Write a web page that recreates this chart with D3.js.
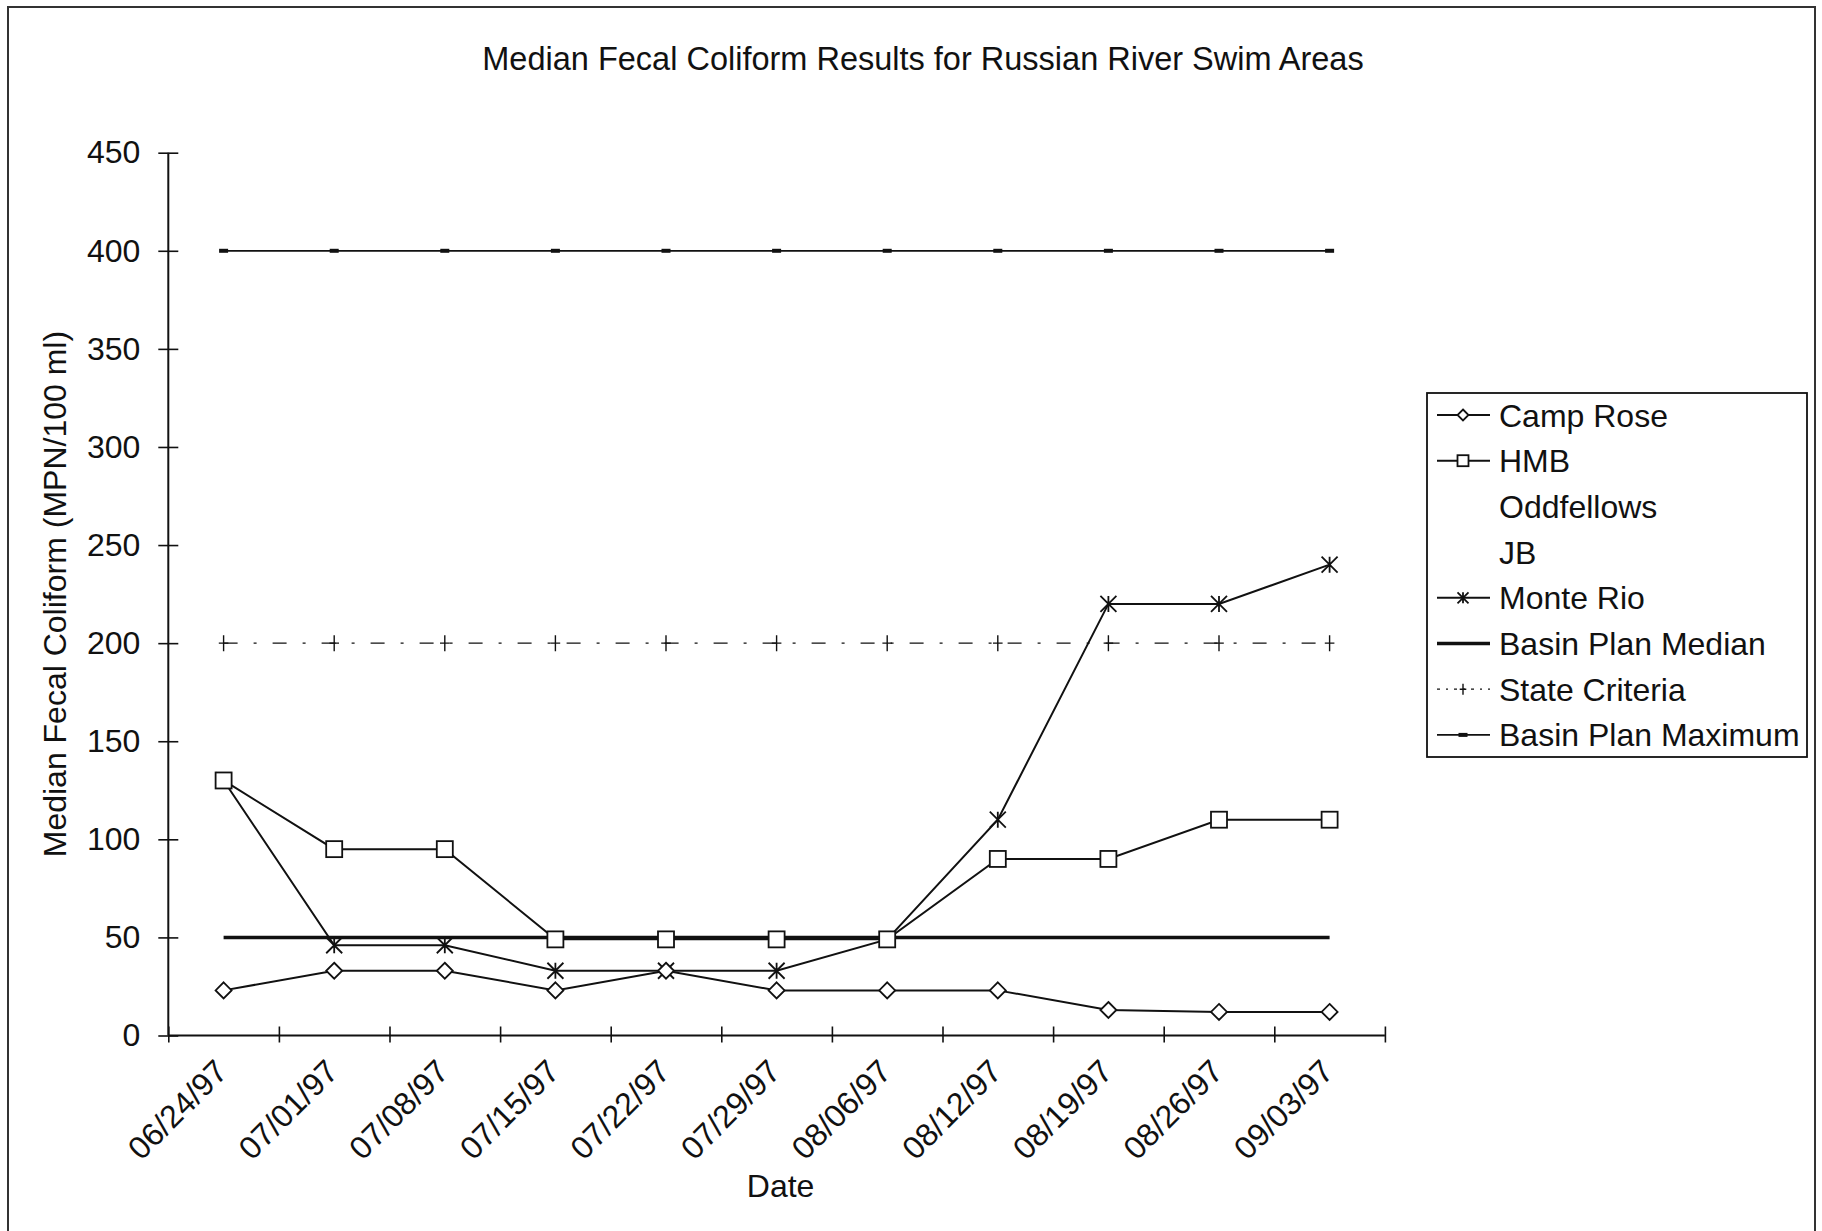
<!DOCTYPE html>
<html>
<head>
<meta charset="utf-8">
<script src="https://cdn.jsdelivr.net/npm/d3@7"></script>
<style>
  html, body { margin: 0; padding: 0; background: #fff; }
  svg { display: block; }
  text { font-family: "Liberation Sans", Arial, Helvetica, sans-serif; fill: #111; }
</style>
</head>
<body>
<svg id="chart" width="1822" height="1231"></svg>
<script>
// Sampling dates (category axis)
const dates = ["06/24/97", "07/01/97", "07/08/97", "07/15/97", "07/22/97", "07/29/97",
               "08/06/97", "08/12/97", "08/19/97", "08/26/97", "09/03/97"];

// Median fecal coliform by swim area (MPN/100 ml)
const campRose  = [23, 33, 33, 23, 33, 23, 23, 23, 13, 12, 12];
const hmb       = [130, 95, 95, 49, 49, 49, 49, 90, 90, 110, 110];
const oddfellows = [];
const jb        = [];
const monteRio  = [130, 46, 46, 33, 33, 33, 49, 110, 220, 220, 240];

// Reference criteria
const basinPlanMedian  = [50, 50, 50, 50, 50, 50, 50, 50, 50, 50, 50];
const stateCriteria    = [200, 200, 200, 200, 200, 200, 200, 200, 200, 200, 200];
const basinPlanMaximum = [400, 400, 400, 400, 400, 400, 400, 400, 400, 400, 400];

const yTicks = [0, 50, 100, 150, 200, 250, 300, 350, 400, 450];

const svg = d3.select("#chart");
const FONT = 32;

// Plot frame
const plotLeft = 168.3, plotRight = 1384.9, plotTop = 152.7, plotBottom = 1035.5;

const x = d3.scaleBand().domain(dates).range([plotLeft, plotRight]).padding(0);
const xEdge = d3.scaleLinear().domain([0, dates.length]).range([plotLeft, plotRight]);
const y = d3.scaleLinear().domain([0, 450]).range([plotBottom, plotTop]);
const cx = d => x(d) + x.bandwidth() / 2;

// Page border
svg.append("path")
  .attr("d", `M8,1231 L8,7 L1815,7 L1815,1231`)
  .attr("fill", "none").attr("stroke", "#333").attr("stroke-width", 2);

// Title
svg.append("text")
  .attr("x", 923).attr("y", 70)
  .attr("text-anchor", "middle")
  .style("font-size", "32.5px")
  .text("Median Fecal Coliform Results for Russian River Swim Areas");

// Y axis
const yAxis = svg.append("g")
  .attr("transform", `translate(${plotLeft},0)`)
  .call(d3.axisLeft(y).tickValues(yTicks).tickSize(10).tickPadding(18));
yAxis.select(".domain").attr("stroke", "#111").attr("stroke-width", 2).attr("d", `M0,${plotBottom}V${plotTop}`);
yAxis.selectAll(".tick line").attr("x1", 10).attr("x2", -10).attr("stroke", "#111").attr("stroke-width", 1.6);
yAxis.selectAll(".tick text").style("font-size", FONT + "px").attr("fill", "#111");

// X axis: ticks on category boundaries
const xAxis = svg.append("g")
  .attr("transform", `translate(0,${plotBottom})`)
  .call(d3.axisBottom(xEdge).tickValues(d3.range(dates.length + 1)).tickFormat(""));
xAxis.select(".domain").attr("stroke", "#111").attr("stroke-width", 2).attr("d", `M${plotLeft},0H${plotRight}`);
xAxis.selectAll(".tick line").attr("y1", -9).attr("y2", 7).attr("stroke", "#111").attr("stroke-width", 1.6);

// Category labels, rotated
svg.append("g").selectAll("text")
  .data(dates).join("text")
  .attr("transform", d => `translate(${cx(d) - 10},${plotBottom + 22}) rotate(-45)`)
  .attr("text-anchor", "end")
  .attr("dy", "0.7em")
  .style("font-size", FONT + "px")
  .text(d => d);

// Axis titles
svg.append("text")
  .attr("transform", `translate(66,${(plotTop + plotBottom) / 2}) rotate(-90)`)
  .attr("text-anchor", "middle")
  .style("font-size", FONT + "px")
  .text("Median Fecal Coliform (MPN/100 ml)");

svg.append("text")
  .attr("x", (plotLeft + plotRight) / 2 + 4).attr("y", 1197)
  .attr("text-anchor", "middle")
  .style("font-size", FONT + "px")
  .text("Date");

// Marker shapes
function marker(g, type, px, py, s) {
  const h = s / 2;
  if (type === "diamond") {
    g.append("path").attr("d", `M${px},${py - h}L${px + h},${py}L${px},${py + h}L${px - h},${py}Z`)
      .attr("fill", "#fff").attr("stroke", "#111").attr("stroke-width", 1.8);
  } else if (type === "square") {
    g.append("rect").attr("x", px - h).attr("y", py - h).attr("width", s).attr("height", s)
      .attr("fill", "#fff").attr("stroke", "#111").attr("stroke-width", 1.8);
  } else if (type === "star") {
    g.append("path").attr("d",
      `M${px - h},${py - h}L${px + h},${py + h}M${px + h},${py - h}L${px - h},${py + h}M${px},${py - h}L${px},${py + h}`)
      .attr("fill", "none").attr("stroke", "#111").attr("stroke-width", 1.8);
  } else if (type === "plus") {
    g.append("path").attr("d", `M${px},${py - h}L${px},${py + h}M${px - h * 0.6},${py}L${px + h * 0.6},${py}`)
      .attr("fill", "none").attr("stroke", "#111").attr("stroke-width", 1.4);
  } else if (type === "dash") {
    g.append("rect").attr("x", px - h).attr("y", py - 2).attr("width", s).attr("height", 4)
      .attr("fill", "#111");
  }
}

const line = d3.line().x((v, i) => cx(dates[i])).y(v => y(v));

const series = [
  { name: "Camp Rose", values: campRose, marker: "diamond", size: 16, width: 2, dash: null, z: 1 },
  { name: "HMB", values: hmb, marker: "square", size: 16, width: 2, dash: null, z: 2 },
  { name: "Oddfellows", values: oddfellows, marker: null, size: 0, width: 2, dash: null, z: 0 },
  { name: "JB", values: jb, marker: null, size: 0, width: 2, dash: null, z: 0 },
  { name: "Monte Rio", values: monteRio, marker: "star", size: 16, width: 2, dash: null, z: 0 },
  { name: "Basin Plan Median", values: basinPlanMedian, marker: null, size: 0, width: 3.5, dash: null, z: 0 },
  { name: "State Criteria", values: stateCriteria, marker: "plus", size: 16, width: 1.3, dash: "14,16,3,16", z: 0 },
  { name: "Basin Plan Maximum", values: basinPlanMaximum, marker: "dash", size: 9, width: 1.8, dash: null, z: 0 }
];

// Lines first, then the station markers (squares on top)
const lineLayer = svg.append("g");
const markLayer = svg.append("g");
series.forEach(s => {
  if (!s.values.length) return;
  lineLayer.append("path").datum(s.values)
    .attr("d", line)
    .attr("fill", "none").attr("stroke", "#111")
    .attr("stroke-width", s.width)
    .attr("stroke-dasharray", s.dash);
});
series.slice().sort((a, b) => a.z - b.z).forEach(s => {
  if (!s.values.length || !s.marker) return;
  const g = markLayer.append("g");
  s.values.forEach((v, i) => marker(g, s.marker, cx(dates[i]), y(v), s.size));
});

// Legend
const lg = svg.append("g");
lg.append("rect").attr("x", 1427).attr("y", 393).attr("width", 380).attr("height", 364)
  .attr("fill", "#fff").attr("stroke", "#111").attr("stroke-width", 1.8);
series.forEach((s, i) => {
  const ly = 415 + i * 45.7;
  if (s.values.length) {
    lg.append("line").attr("x1", 1437).attr("x2", 1490).attr("y1", ly).attr("y2", ly)
      .attr("stroke", "#111").attr("stroke-width", s.width)
      .attr("stroke-dasharray", s.dash ? "3,6,2,6" : null);
    if (s.marker) marker(lg, s.marker, 1463, ly, Math.min(s.size, 11));
  }
  lg.append("text").attr("x", 1499).attr("y", ly).attr("dy", "0.36em")
    .style("font-size", FONT + "px").text(s.name);
});
</script>
</body>
</html>
